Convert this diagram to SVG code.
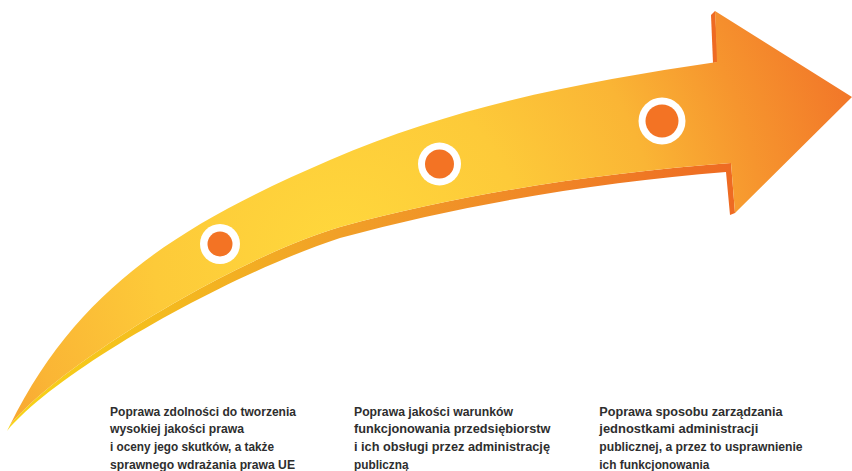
<svg xmlns="http://www.w3.org/2000/svg" width="852" height="471" viewBox="0 0 852 471">
  <defs>
    <radialGradient id="bodyGrad" gradientUnits="userSpaceOnUse" cx="340" cy="255" r="530">
      <stop offset="0" stop-color="#ffd83c"/>
      <stop offset="0.35" stop-color="#fdca39"/>
      <stop offset="0.6" stop-color="#fab535"/>
      <stop offset="0.8" stop-color="#f6952e"/>
      <stop offset="1" stop-color="#f27829"/>
    </radialGradient>
    <linearGradient id="bandGrad" gradientUnits="userSpaceOnUse" x1="10" y1="0" x2="735" y2="0">
      <stop offset="0" stop-color="#f7d417"/>
      <stop offset="0.2" stop-color="#f4bb1e"/>
      <stop offset="0.45" stop-color="#f1a027"/>
      <stop offset="0.75" stop-color="#f08526"/>
      <stop offset="1" stop-color="#ee6a22"/>
    </linearGradient>
    <style>
      .ring { fill: #ffffff; }
      .dot { fill: #f37324; }
      .lbl { font-family: "Liberation Sans", Arial, sans-serif; font-weight: bold; font-size: 13.5px; fill: #2e2e2e; }
    </style>
  </defs>

  <g id="connectors">
    <!-- depth band under the shaft and along lower barb -->
    <path fill="url(#bandGrad)" d="M 735,213 L 731,163 C 601,173 470,192 340,227 C 230,260 58,366 10,425 L 7,431 C 60,368 230,274 340,238 C 470,203 601,182 726,172 L 730,215 Z"/>
    <!-- depth strip on upper barb -->
    <path fill="#ee6a22" d="M 715,11 L 711,15 L 713,63 L 718,62 Z"/>
    <!-- main arrow body -->
    <path id="arrow" fill="url(#bodyGrad)" d="M 10,425 C 78,288 180,224.5 330,160 C 460,104 586,81.5 717,62 L 715,11 L 852,97 L 735,213 L 731,163 C 601,173 470,192 340,227 C 230,260 58,366 10,425 Z"/>
  </g>

  <g id="node1">
    <circle class="ring" cx="220" cy="244" r="20"/>
    <circle class="dot" cx="220" cy="244" r="12.5"/>
  </g>
  <g id="node2">
    <circle class="ring" cx="439.5" cy="164" r="21.5"/>
    <circle class="dot" cx="439.5" cy="164" r="14.5"/>
  </g>
  <g id="node3">
    <circle class="ring" cx="662" cy="121" r="23.5"/>
    <circle class="dot" cx="662" cy="121" r="16.5"/>
  </g>

  <g id="label1" class="lbl">
    <text x="110" y="415.5" textLength="186" lengthAdjust="spacingAndGlyphs">Poprawa zdolności do tworzenia</text>
    <text x="110" y="433.3" textLength="134" lengthAdjust="spacingAndGlyphs">wysokiej jakości prawa</text>
    <text x="110" y="451" textLength="164" lengthAdjust="spacingAndGlyphs">i oceny jego skutków, a także</text>
    <text x="110" y="468.8" textLength="185" lengthAdjust="spacingAndGlyphs">sprawnego wdrażania prawa UE</text>
  </g>
  <g id="label2" class="lbl">
    <text x="354" y="415.5" textLength="159" lengthAdjust="spacingAndGlyphs">Poprawa jakości warunków</text>
    <text x="354" y="433.3" textLength="196.5" lengthAdjust="spacingAndGlyphs">funkcjonowania przedsiębiorstw</text>
    <text x="354" y="451" textLength="196" lengthAdjust="spacingAndGlyphs">i ich obsługi przez administrację</text>
    <text x="354" y="468.8" textLength="54.5" lengthAdjust="spacingAndGlyphs">publiczną</text>
  </g>
  <g id="label3" class="lbl">
    <text x="599.3" y="415.5" textLength="183.3" lengthAdjust="spacingAndGlyphs">Poprawa sposobu zarządzania</text>
    <text x="599.3" y="433.3" textLength="159" lengthAdjust="spacingAndGlyphs">jednostkami administracji</text>
    <text x="599.3" y="451" textLength="203.3" lengthAdjust="spacingAndGlyphs">publicznej, a przez to usprawnienie</text>
    <text x="599.3" y="468.8" textLength="110" lengthAdjust="spacingAndGlyphs">ich funkcjonowania</text>
  </g>
</svg>
